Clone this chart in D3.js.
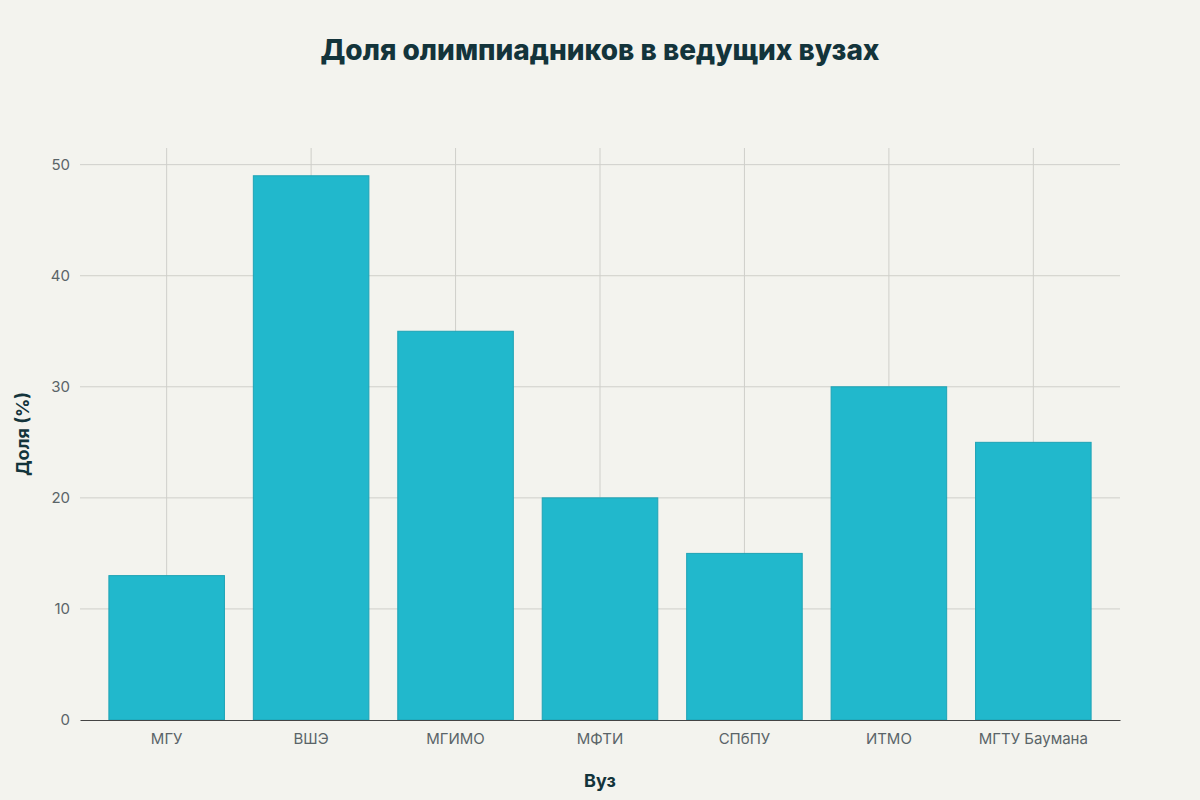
<!DOCTYPE html>
<html><head><meta charset="utf-8">
<script src="https://cdn.jsdelivr.net/npm/d3@7"></script>
<style>body{margin:0;background:#f3f3ee;font-family:Inter,"Noto Sans",sans-serif}</style>
</head><body><svg id="chart" width="1200" height="800"></svg>
<script>
var categories = ["МГУ", "ВШЭ", "МГИМО", "МФТИ", "СПбПУ", "ИТМО", "МГТУ Баумана"];
var values = [13, 49, 35, 20, 15, 30, 25];
var yTicks = [0, 10, 20, 30, 40, 50];

var svg = d3.select("#chart");
var m = {left: 80, right: 1120, top: 148, bottom: 720};

var x = d3.scaleBand().domain(categories).range([m.left, m.right]).padding(0.2);
var y = d3.scaleLinear().domain([0, 51.5]).range([m.bottom, m.top]);

svg.append("rect").attr("width", 1200).attr("height", 800).attr("fill", "#f3f3ee");

// grid
svg.append("g").selectAll("line").data(yTicks.slice(1)).join("line")
  .attr("x1", m.left).attr("x2", m.right)
  .attr("y1", d => y(d)).attr("y2", d => y(d))
  .attr("stroke", "#cfcfca").attr("stroke-width", 1);
svg.append("g").selectAll("line").data(categories).join("line")
  .attr("x1", d => x(d) + x.bandwidth() / 2).attr("x2", d => x(d) + x.bandwidth() / 2)
  .attr("y1", m.top).attr("y2", m.bottom)
  .attr("stroke", "#cfcfca").attr("stroke-width", 1);

// bars
svg.append("g").selectAll("rect").data(values).join("rect")
  .attr("x", (d, i) => x(categories[i]))
  .attr("width", x.bandwidth())
  .attr("y", d => y(d))
  .attr("height", d => y(0) - y(d))
  .attr("fill", "#21b8cc").attr("stroke", "#1ea3b5").attr("stroke-width", 1);

// axes
var xa = svg.append("g").attr("transform", "translate(0," + m.bottom + ")")
  .call(d3.axisBottom(x).tickSize(0).tickPadding(13));
xa.select(".domain").attr("stroke", "#444");
xa.selectAll("text").attr("font-size", 15).attr("fill", "#5a6468").attr("font-family", "Inter,sans-serif");

var ya = svg.append("g").attr("transform", "translate(" + m.left + ",0)")
  .call(d3.axisLeft(y).tickValues(yTicks).tickSize(0).tickPadding(10));
ya.select(".domain").remove();
ya.selectAll("text").attr("font-size", 15).attr("fill", "#5a6468").attr("font-family", "Inter,sans-serif");

svg.append("text").attr("x", 600).attr("y", 60).attr("text-anchor", "middle")
  .attr("font-size", 28).attr("font-weight", 800).attr("fill", "#13343b")
  .text("Доля олимпиадников в ведущих вузах");
svg.append("text").attr("x", 600).attr("y", 787).attr("text-anchor", "middle")
  .attr("font-size", 18).attr("font-weight", 700).attr("fill", "#13343b").text("Вуз");
svg.append("text").attr("transform", "translate(29,434) rotate(-90)").attr("text-anchor", "middle")
  .attr("font-size", 18).attr("font-weight", 700).attr("fill", "#13343b").text("Доля (%)");
</script></body></html>
